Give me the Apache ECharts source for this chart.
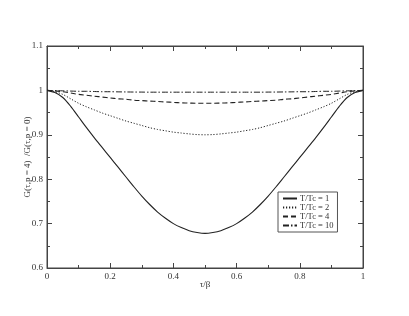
<!DOCTYPE html>
<html><head><meta charset="utf-8">
<script src="https://cdn.jsdelivr.net/npm/echarts@6/dist/echarts.min.js"></script>
<style>html,body{margin:0;padding:0;background:#fff}#c{width:409px;height:316px}</style>
</head><body><div id="c"></div>
<script>
var tau = [0, 0.025, 0.05, 0.075, 0.1, 0.125, 0.15, 0.175, 0.2, 0.225, 0.25, 0.275, 0.3, 0.325, 0.35, 0.375, 0.4, 0.425, 0.45, 0.475, 0.5,
           0.525, 0.55, 0.575, 0.6, 0.625, 0.65, 0.675, 0.7, 0.725, 0.75, 0.775, 0.8, 0.825, 0.85, 0.875, 0.9, 0.925, 0.95, 0.975, 1];
var tc1  = [1, 0.995, 0.984, 0.964, 0.940, 0.916, 0.893, 0.871, 0.849, 0.827, 0.805, 0.783, 0.762, 0.743, 0.726, 0.712, 0.700, 0.691, 0.684, 0.680, 0.678,
            0.680, 0.684, 0.691, 0.700, 0.712, 0.726, 0.743, 0.762, 0.783, 0.805, 0.827, 0.849, 0.871, 0.893, 0.916, 0.940, 0.964, 0.984, 0.995, 1];
var tc2  = [1, 0.997, 0.991, 0.981, 0.971, 0.963, 0.956, 0.949, 0.943, 0.937, 0.931, 0.926, 0.921, 0.916, 0.912, 0.909, 0.906, 0.904, 0.902, 0.9005, 0.900,
            0.9005, 0.902, 0.904, 0.906, 0.909, 0.912, 0.916, 0.921, 0.926, 0.931, 0.937, 0.943, 0.949, 0.956, 0.963, 0.971, 0.981, 0.991, 0.997, 1];
var tc4  = [1, 0.999, 0.997, 0.994, 0.991, 0.989, 0.987, 0.985, 0.983, 0.981, 0.980, 0.978, 0.977, 0.976, 0.975, 0.974, 0.973, 0.972, 0.9715, 0.971, 0.971,
            0.971, 0.9715, 0.972, 0.973, 0.974, 0.975, 0.976, 0.977, 0.978, 0.980, 0.981, 0.983, 0.985, 0.987, 0.989, 0.991, 0.994, 0.997, 0.999, 1];
var tc10 = [1, 0.9995, 0.999, 0.9985, 0.998, 0.998, 0.9975, 0.997, 0.997, 0.9967, 0.9965, 0.9963, 0.9962, 0.996, 0.996, 0.996, 0.996, 0.996, 0.996, 0.996, 0.996,
            0.996, 0.996, 0.996, 0.996, 0.996, 0.996, 0.996, 0.9962, 0.9963, 0.9965, 0.9967, 0.997, 0.997, 0.9975, 0.998, 0.998, 0.9985, 0.999, 0.9995, 1];
var names = ['T/Tc = 1', 'T/Tc = 2', 'T/Tc = 4', 'T/Tc = 10'];
var xTicks = [0, 0.2, 0.4, 0.6, 0.8, 1];
var yTicks = [0.6, 0.7, 0.8, 0.9, 1, 1.1];

function pairs(ys){ return tau.map(function(t,i){ return [t, ys[i]]; }); }
var font = 'Liberation Serif';
var styles = [
  {type:'solid', width:1.1},
  {type:[1.2,1.8], width:1},
  {type:[5,3], width:1.1},
  {type:[6,2,1.5,2], width:1}
];
var datas = [tc1, tc2, tc4, tc10];
var series = datas.map(function(d,i){
  return {name:names[i], type:'line', data:pairs(d), smooth:0.3, symbol:'none', showSymbol:false,
    xAxisIndex:0, yAxisIndex:0,
    lineStyle:{color:'#222', width:styles[i].width, type:styles[i].type},
    itemStyle:{color:'#222'}};
});
// placeholder series so the mirrored top/right axes are drawn
series.push({type:'line', data:[], xAxisIndex:1, yAxisIndex:1, silent:true, symbol:'none'});

function xa(pos, showLabel){
  return {type:'value', position:pos, min:0, max:1, interval:0.2, gridIndex:0,
    axisLine:{show:true, onZero:false, lineStyle:{color:'#444', width:1}},
    axisTick:{show:true, inside:true, length:5, lineStyle:{color:'#444'}},
    minorTick:{show:true, splitNumber:2, length:3, lineStyle:{color:'#444'}},
    splitLine:{show:false},
    axisLabel:{show:showLabel, fontFamily:font, fontSize:9, color:'#333', margin:4,
      formatter:function(v){ var r=+v.toFixed(1); return xTicks.indexOf(r)>=0 ? String(r) : ''; }},
    name: showLabel ? 'τ/β' : '', nameLocation:'middle', nameGap:12, nameMoveOverlap:false,
    nameTextStyle:{fontFamily:font, fontSize:9, color:'#333'}};
}
function ya(pos, showLabel){
  return {type:'value', position:pos, min:0.6, max:1.1, interval:0.1, gridIndex:0,
    axisLine:{show:true, onZero:false, lineStyle:{color:'#444', width:1}},
    axisTick:{show:true, inside:true, length:5, lineStyle:{color:'#444'}},
    minorTick:{show:true, splitNumber:2, length:3, lineStyle:{color:'#444'}},
    splitLine:{show:false},
    axisLabel:{show:showLabel, fontFamily:font, fontSize:9, color:'#333', margin:4,
      formatter:function(v){ var r=+v.toFixed(1); return yTicks.indexOf(r)>=0 ? String(r) : ''; }},
    name: showLabel ? 'G(τ,p = 4)  /G(τ,p = 0)' : '', nameLocation:'middle', nameGap:15, nameMoveOverlap:false,
    nameTextStyle:{fontFamily:font, fontSize:9, color:'#333'}};
}
var chart = echarts.init(document.getElementById('c'), null, {renderer:'canvas'});
chart.setOption({
  animation:false,
  backgroundColor:'#fff',
  grid:{left:47, right:46, top:46, bottom:48, show:true, borderColor:'#444', borderWidth:1, backgroundColor:'transparent'},
  xAxis:[xa('bottom', true), xa('top', false)],
  yAxis:[ya('left', true), ya('right', false)],
  legend:{data:names, orient:'vertical', left:278, top:192, itemWidth:14, itemHeight:6, itemGap:0,
    borderColor:'#555', borderWidth:1, padding:[2,4,2,4], borderRadius:0,
    itemStyle:{opacity:0},
    textStyle:{fontFamily:font, fontSize:8.5, color:'#333', padding:[0,0,0,-2]}},
  series:series
});
</script></body></html>
